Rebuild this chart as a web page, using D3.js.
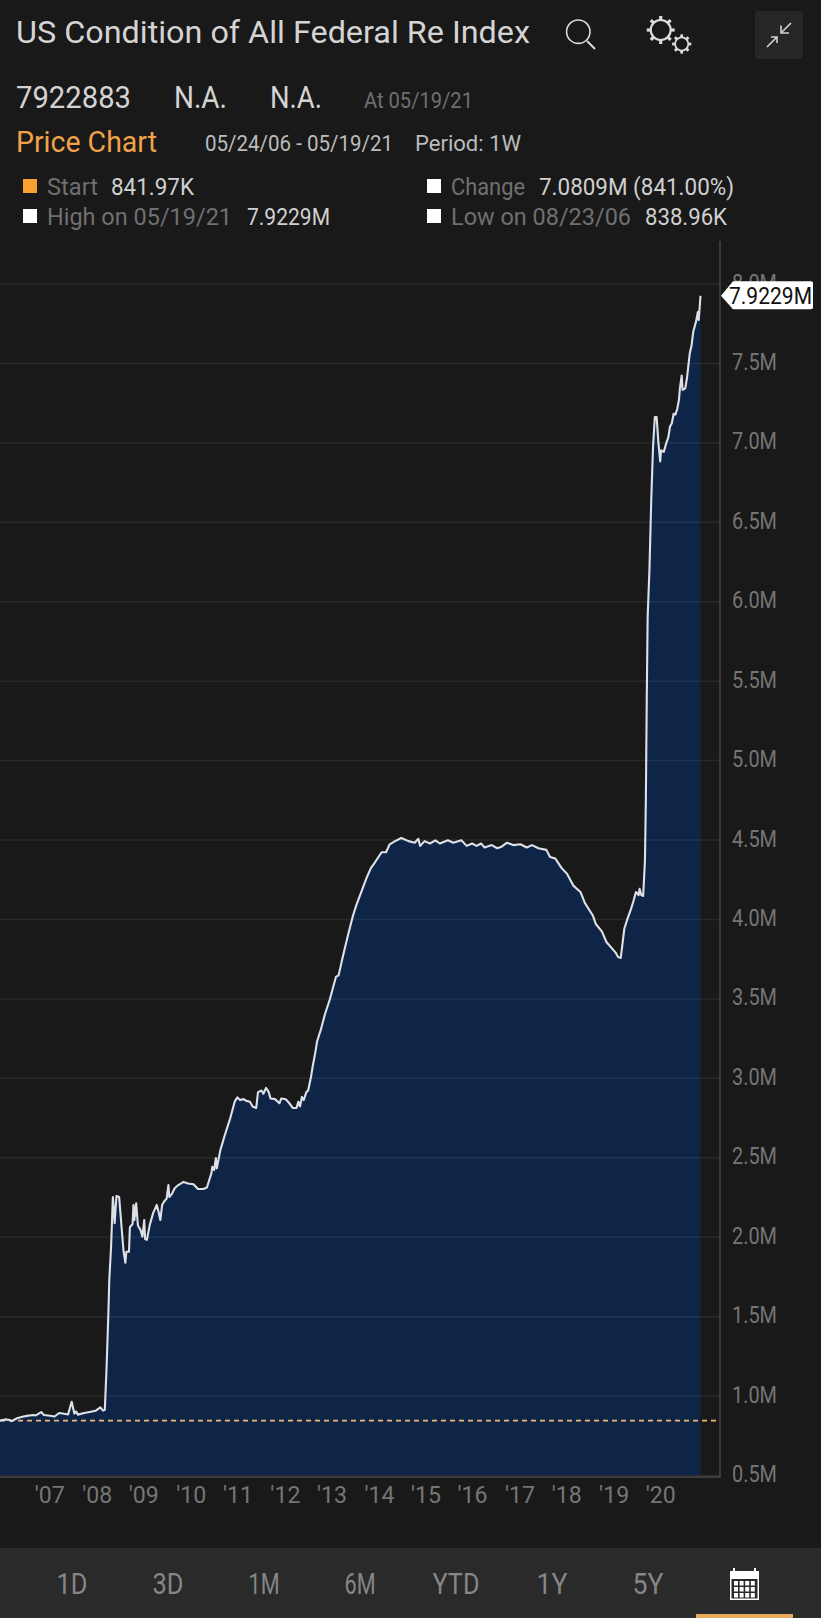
<!DOCTYPE html>
<html>
<head>
<meta charset="utf-8">
<script src="https://cdn.jsdelivr.net/npm/d3@7"></script>
<style>
  html, body { margin: 0; background: #191919; }
  svg { display: block; }
  text { font-family: Roboto, sans-serif; }
</style>
</head>
<body>
<div id="chart-area"></div>
<script>
// readings: week number since 05/24/06, value in millions
const weeks = [0,6,11,13,19,25,30,37,40,46,49,56,61,66,70,76,80,83,85,87,94,100,107,112,115,117,
  119,121,122,124,126,128,130,133,136,138,140,141,144,145,148,149,150,152,154,157,159,161,162,164,
  167,171,175,177,179,181,183,186,188,189,192,195,199,205,210,216,221,227,231,236,237,239,241,242,
  246,251,257,262,265,268,272,275,279,282,286,288,292,294,297,300,302,307,312,314,319,323,327,331,
  333,335,337,339,342,344,347,349,352,354,358,363,368,375,378,383,389,394,398,404,409,414,419,426,
  431,435,441,448,456,463,467,469,474,480,486,491,500,506,515,521,527,532,537,541,549,555,560,566,
  573,581,588,594,601,610,614,620,627,633,640,648,653,662,665,672,677,687,690,693,697,701,704,707,
  710,713,714,716,718,720,721,722,723,725,727,729,731,733,735,737,738,741,744,746,748,750,752,754,
  756,758,759,761,762,765,767,770,772,774,777,779,780,782];
const values = [0.842,0.85,0.846,0.839,0.857,0.867,0.872,0.878,0.875,0.896,0.878,0.873,0.868,0.89,0.887,0.881,0.961,0.887,0.9,0.88,0.89,0.897,0.905,0.926,0.905,0.91,
  1.18,1.52,1.727,1.937,2.25,2.085,2.256,2.25,2.04,1.905,1.836,1.905,1.905,2.06,2.08,2.2,2.105,2.21,2.07,2.04,2.0,2.105,1.985,1.98,
  2.07,2.15,2.2,2.157,2.105,2.2,2.22,2.24,2.325,2.25,2.27,2.305,2.325,2.345,2.335,2.33,2.3,2.3,2.31,2.4,2.44,2.42,2.495,2.43,
  2.545,2.64,2.745,2.85,2.877,2.86,2.866,2.855,2.85,2.82,2.81,2.91,2.92,2.9,2.937,2.91,2.87,2.866,2.84,2.87,2.865,2.84,2.81,2.81,
  2.85,2.82,2.88,2.86,2.91,2.92,3.0,3.07,3.16,3.23,3.3,3.405,3.49,3.635,3.645,3.77,3.91,4.02,4.09,4.18,4.255,4.32,4.36,4.42,
  4.42,4.47,4.49,4.51,4.49,4.48,4.505,4.46,4.49,4.475,4.495,4.475,4.495,4.48,4.495,4.46,4.475,4.46,4.475,4.45,4.465,4.445,4.455,4.48,
  4.465,4.47,4.45,4.465,4.445,4.435,4.39,4.38,4.32,4.285,4.21,4.17,4.1,4.02,3.97,3.92,3.855,3.79,3.76,3.755,3.94,4.01,4.055,4.11,
  4.17,4.15,4.19,4.15,4.145,4.37,4.75,5.38,5.9,6.2,6.635,6.97,7.16,7.16,7.0,6.88,6.95,6.94,7.0,7.03,7.1,7.12,7.18,7.175,
  7.21,7.27,7.34,7.42,7.33,7.34,7.41,7.56,7.61,7.7,7.76,7.82,7.77,7.9229];

const priceTicks = [0.5,1,1.5,2,2.5,3,3.5,4,4.5,5,5.5,6,6.5,7,7.5,8];
const yearLabels = ["'07","'08","'09","'10","'11","'12","'13","'14","'15","'16","'17","'18","'19","'20"];
const yearWeeks = [55,108,160,213,265,318,370,423,475,527,580,632,685,737];
const rangeLabels = ['1D','3D','1M','6M','YTD','1Y','5Y'];
const startValue = 0.84197, lastValue = 7.9229;

const width = 821, height = 1618;

const x = d3.scaleLinear().domain([0, 782]).range([0, 700.5]);
const y = d3.scaleLinear().domain([0.5, 8]).range([1475, 283.5]);

const series = weeks.map((w, i) => ({ w: w, v: values[i] }));

let svg = d3.select('#chart-area')
  .append('svg')
  .attr('width', width)
  .attr('height', height);

svg.append('rect').attr('width', width).attr('height', height).attr('fill', '#191919');

// text is squeezed to the measured width, the original face is narrower than anything installed
function label(str, px, baseline, size, fill, w, weight) {
  return svg.append('text')
    .attr('x', px)
    .attr('y', baseline)
    .attr('font-size', size)
    .attr('font-weight', weight || 400)
    .attr('fill', fill)
    .attr('textLength', w)
    .attr('lengthAdjust', 'spacingAndGlyphs')
    .text(str);
}

// header
label('US Condition of All Federal Re Index', 16, 43, 31, '#d4d4d4', 514);
label('7922883', 16, 108, 31, '#d4d4d4', 115);
label('N.A.', 174, 108, 31, '#d4d4d4', 53);
label('N.A.', 270, 108, 31, '#d4d4d4', 52);
label('At 05/19/21', 364, 108, 22, '#707070', 109);
label('Price Chart', 16, 152, 29, '#f0a248', 141);
label('05/24/06 - 05/19/21', 205, 151, 22, '#bcbcbc', 188);
label('Period: 1W', 415, 151, 22, '#bcbcbc', 106);

svg.append('rect').attr('x', 23).attr('y', 179).attr('width', 14).attr('height', 14).attr('fill', '#f9a02f');
svg.append('rect').attr('x', 427).attr('y', 179).attr('width', 14).attr('height', 14).attr('fill', '#fff');
svg.append('rect').attr('x', 23).attr('y', 209).attr('width', 14).attr('height', 14).attr('fill', '#fff');
svg.append('rect').attr('x', 427).attr('y', 209).attr('width', 14).attr('height', 14).attr('fill', '#fff');
label('Start', 47, 195, 24, '#707070', 51);
label('841.97K', 111, 195, 24, '#d0d0d0', 83);
label('Change', 451, 195, 24, '#707070', 74);
label('7.0809M (841.00%)', 539, 195, 24, '#d0d0d0', 195);
label('High on 05/19/21', 47, 225, 24, '#707070', 185);
label('7.9229M', 247, 225, 24, '#d0d0d0', 83);
label('Low on 08/23/06', 451, 225, 24, '#707070', 180);
label('838.96K', 645, 225, 24, '#d0d0d0', 82);

// header icons
const icons = svg.append('g').attr('fill', 'none').attr('stroke', '#dcdcdc');
icons.append('circle').attr('cx', 578.3).attr('cy', 31.7).attr('r', 11.7).attr('stroke-width', 1.6);
icons.append('line').attr('x1', 587).attr('y1', 41).attr('x2', 595).attr('y2', 49).attr('stroke-width', 2);

function gear(cx, cy, r, tooth, n, sw) {
  icons.append('circle').attr('cx', cx).attr('cy', cy).attr('r', r).attr('stroke-width', sw);
  d3.range(n).forEach(i => {
    const a = i / n * 2 * Math.PI;
    icons.append('line')
      .attr('x1', cx + r * Math.cos(a)).attr('y1', cy + r * Math.sin(a))
      .attr('x2', cx + tooth * Math.cos(a)).attr('y2', cy + tooth * Math.sin(a))
      .attr('stroke-width', sw + 1);
  });
}
gear(660.7, 30, 10, 14, 8, 2.2);
gear(681.7, 44, 6.6, 9.6, 8, 1.8);

svg.append('rect').attr('x', 755).attr('y', 11).attr('width', 48).attr('height', 48).attr('rx', 3).attr('fill', '#262626');
const arrows = svg.append('g').attr('fill', 'none').attr('stroke', '#d0d0d0').attr('stroke-width', 1.6);
arrows.append('path').attr('d', 'M767,47L777,37M771,37H777V43');
arrows.append('path').attr('d', 'M791,23L781,33M781,25.500V33H789');

// plot
const area = d3.area().x(d => x(d.w)).y0(y(0.5)).y1(d => y(d.v));
const line = d3.line().x(d => x(d.w)).y(d => y(d.v));

svg.append('path').datum(series).attr('d', area).attr('fill', '#0f2548');

// grid lines and price labels
const yAxis = svg.append('g')
  .attr('transform', 'translate(720,0)')
  .call(d3.axisLeft(y).tickValues(priceTicks).tickSize(720).tickFormat(d => d.toFixed(1) + 'M'));
yAxis.select('.domain').remove();
yAxis.selectAll('.tick line').attr('stroke', '#fff').attr('stroke-opacity', 0.07).attr('stroke-width', 1.5);
yAxis.selectAll('.tick text')
  .attr('x', 12)
  .attr('dy', 6.5)
  .attr('text-anchor', 'start')
  .attr('font-size', 23)
  .attr('fill', '#757575')
  .attr('textLength', 45)
  .attr('lengthAdjust', 'spacingAndGlyphs');

svg.append('line').attr('x1', 0).attr('x2', 720)
  .attr('y1', y(startValue)).attr('y2', y(startValue))
  .attr('stroke', '#eeb872').attr('stroke-width', 1.8).attr('stroke-dasharray', '5 4');

svg.append('path').datum(series).attr('d', line)
  .attr('fill', 'none').attr('stroke', '#dde1e7').attr('stroke-width', 2.1).attr('stroke-linejoin', 'round');

// frame of the plot
svg.append('line').attr('x1', 720).attr('x2', 720).attr('y1', 241).attr('y2', 1478).attr('stroke', '#444').attr('stroke-width', 1.5);
svg.append('line').attr('x1', 0).attr('x2', 720).attr('y1', 1477).attr('y2', 1477).attr('stroke', '#3d3d3d').attr('stroke-width', 2);

// year labels
const xAxis = svg.append('g')
  .attr('transform', 'translate(0,1477)')
  .call(d3.axisBottom(x).tickValues(yearWeeks).tickSize(0).tickFormat((d, i) => yearLabels[i]));
xAxis.select('.domain').remove();
xAxis.selectAll('.tick text')
  .attr('y', 26)
  .attr('dy', 0)
  .attr('text-anchor', 'middle')
  .attr('font-size', 24)
  .attr('fill', '#757575')
  .attr('textLength', 30)
  .attr('lengthAdjust', 'spacingAndGlyphs');

// last value tag
const tagY = y(lastValue);
svg.append('path')
  .attr('d', `M721,${tagY}L733,${tagY - 14.500}H811Q813,${tagY - 14.500} 813,${tagY - 12.500}V${tagY + 11.500}Q813,${tagY + 13.500} 811,${tagY + 13.500}H733Z`)
  .attr('fill', '#fff');
label('7.9229M', 729, tagY + 8, 24, '#111', 83);

// range bar
svg.append('rect').attr('x', 0).attr('y', 1548).attr('width', width).attr('height', 70).attr('fill', '#2a2a2a');
const rangeX = d3.scalePoint().domain(rangeLabels).range([72, 648]);
svg.selectAll('.range')
  .data(rangeLabels)
  .join('text')
  .attr('class', 'range')
  .attr('x', d => rangeX(d))
  .attr('y', 1594)
  .attr('text-anchor', 'middle')
  .attr('font-size', 29)
  .attr('fill', '#868686')
  .attr('textLength', d => d === 'YTD' ? 47 : 31)
  .attr('lengthAdjust', 'spacingAndGlyphs')
  .text(d => d);

// calendar icon
const cal = svg.append('g').attr('transform', 'translate(730,1568)');
cal.append('rect').attr('x', 0).attr('y', 3).attr('width', 29).attr('height', 29).attr('fill', '#fff');
cal.append('rect').attr('x', 3).attr('y', 0).attr('width', 2).attr('height', 5).attr('fill', '#fff');
cal.append('rect').attr('x', 24).attr('y', 0).attr('width', 2).attr('height', 5).attr('fill', '#fff');
cal.append('rect').attr('x', 1.500).attr('y', 11).attr('width', 26).attr('height', 19.500).attr('fill', '#2a2a2a');
d3.range(3).forEach(r => d3.range(4).forEach(c => {
  cal.append('rect')
    .attr('x', 4 + c * 5.600).attr('y', 13 + r * 6)
    .attr('width', 4).attr('height', 4.500).attr('fill', '#fff');
}));
svg.append('rect').attr('x', 696).attr('y', 1614).attr('width', 97).attr('height', 4).attr('fill', '#e9a95c');
</script>
</body>
</html>
